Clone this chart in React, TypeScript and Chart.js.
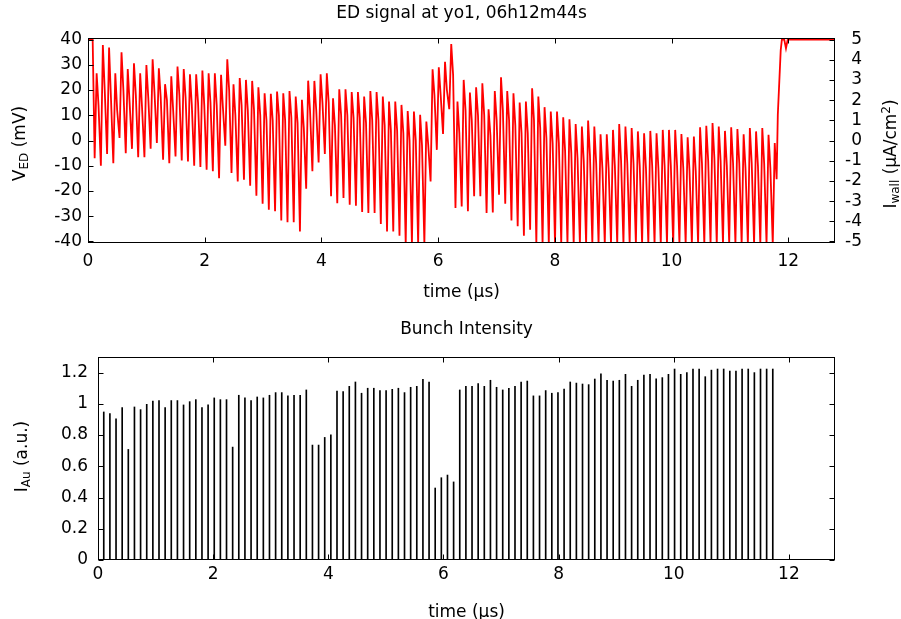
import React, { useEffect, useRef } from 'react';
import { Chart, registerables } from 'chart.js';

Chart.register(...registerables);

const FONT = "'DejaVu Sans', sans-serif";

// ---------- data ----------
const TIME_MIN = 0;
const TIME_MAX = 12.8;
const BUNCH_FIRST = 0.1; // µs
const BUNCH_SPACING = 0.1066; // µs (RF bucket spacing)

const bunchIntensity = [
  0.948, 0.938, 0.904, 0.976, 0.708, 0.98, 0.963, 0.997, 1.017, 1.021,
  0.976, 1.021, 1.021, 0.993, 1.014, 1.027, 0.976, 0.993, 1.038, 1.027,
  1.027, 0.723, 1.055, 1.038, 1.021, 1.044, 1.038, 1.055, 1.072, 1.072,
  1.051, 1.055, 1.055, 1.089, 0.736, 0.736, 0.785, 0.802, 1.082, 1.078,
  1.112, 1.14, 1.068, 1.1, 1.1, 1.085, 1.085, 1.093, 1.1, 1.072,
  1.106, 1.112, 1.157, 1.14, 0.461, 0.527, 0.544, 0.5, 1.089, 1.112,
  1.112, 1.129, 1.112, 1.151, 1.106, 1.089, 1.1, 1.112, 1.14, 1.146,
  1.051, 1.051, 1.085, 1.068, 1.072, 1.095, 1.14, 1.133, 1.127, 1.123,
  1.159, 1.193, 1.151, 1.146, 1.151, 1.189, 1.112, 1.151, 1.185, 1.189,
  1.161, 1.168, 1.189, 1.223, 1.189, 1.2, 1.223, 1.223, 1.174, 1.216,
  1.223, 1.223, 1.21, 1.21, 1.223, 1.223, 1.2, 1.223, 1.223, 1.223,
];

// ED signal (mV): per-bunch minimum, maximum and trailing shoulder
const edTrough = [
  -7.0, -10.0, -5.3, -9.0, 1.0, -5.0, -3.3, -6.6, -6.6, -3.3,
  -1.0, -7.6, -9.0, -6.3, -7.9, -8.3, -10.0, -10.5, -11.6, -12.2,
  -14.9, -2.1, -12.9, -16.2, -15.5, -17.9, -21.9, -25.0, -27.4, -28.0,
  -31.7, -32.4, -32.4, -36.0, -19.1, -12.2, -8.7, -5.3, -22.1, -24.8,
  -22.8, -25.4, -25.8, -28.3, -28.7, -28.7, -33.1, -36.0, -36.0, -37.7,
  -41, -41, -41, -41, -16.2, -3.7, 2.6, 12.4, -26.7, -26.1,
  -28.0, -22.1, -22.1, -28.7, -28.5, -21.5, -25.0, -31.7, -34.0, -37.7,
  -35.3, -41, -41, -41, -41, -41, -41, -41, -41, -41,
  -41, -41, -41, -41, -41, -41, -41, -41, -41, -41,
  -41, -41, -41, -41, -41, -41, -41, -41, -41, -41,
  -41, -41, -41, -41, -41, -41, -41, -41, -41, -41,
];
const edPeak = [
  26.6, 37.8, 36.8, 26.6, 34.9, 28.3, 30.6, 26.6, 29.9, 32.2,
  28.6, 22.3, 25.4, 29.3, 28.3, 26.2, 26.2, 27.7, 26.6, 26.6,
  26.0, 32.2, 22.3, 24.7, 24.0, 23.6, 21.1, 18.7, 18.5, 19.4,
  18.7, 19.6, 17.4, 16.1, 23.7, 23.6, 26.2, 26.6, 16.7, 20.3,
  20.3, 19.2, 19.2, 17.4, 19.6, 19.2, 17.4, 15.4, 15.4, 14.1,
  11.7, 11.5, 10.2, 7.5, 28.2, 29.0, 31.2, 38.2, 15.4, 24.0,
  19.0, 21.1, 22.7, 12.4, 19.6, 25.0, 19.6, 18.7, 15.0, 15.4,
  20.7, 17.4, 13.2, 11.5, 11.5, 9.2, 8.4, 6.5, 5.5, 7.9,
  5.5, 2.5, 2.5, 4.2, 6.5, 5.5, 4.9, 3.6, 2.9, 3.8,
  2.9, 4.2, 4.2, 4.2, 2.6, 1.3, 1.6, 5.2, 5.8, 6.9,
  5.5, 3.8, 5.2, 4.5, 2.5, 4.9, 3.6, 4.9, 2.3, -1.0,
];
const edShoulder = [
  14, 20, 17, 12, 20, 15, 18, 13, 17, 19,
  17, 16, 12, 18, 17, 14, 15, 14, 15, 14,
  13, 20, 10, 14, 12, 12, 10, 8, 8, 10,
  8, 9, 7, 5, 12, 12, 15, 15, 6, 10,
  10, 9, 9, 7, 8, 8, 6, 4, 4, 3,
  0, 0, -2, -1.7, 18, 18, 20, 26, 3, 12,
  8, 10, 10, 2, 8, 12, 8, 6, 3, 3,
  8, 5, 1, -1, -1, -4, -5, -7, -8, -6,
  -9, -11, -11, -10, -8, -9, -9, -10, -11, -10,
  -11, -10, -10, -10, -11, -12, -12, -9, -8, -7,
  -8, -10, -9, -9, -11, -9, -10, -9, -11, -15.3,
];
const edHeadTime = [0, 0.08];
const edHeadValue = [40, 40];
const edTailTime = [11.82, 11.87, 11.89, 11.93, 11.96, 11.99, 12.8];
const edTailValue = [10.2, 35.8, 40, 40, 36.5, 40, 40];

const bunchTime = bunchIntensity.map((_, k) => BUNCH_FIRST + BUNCH_SPACING * k);

// ---------- helpers ----------
type Part = { t: string; k?: 'sub' | 'sup' };

function drawRich(
  ctx: CanvasRenderingContext2D,
  parts: Part[],
  cx: number,
  cy: number,
  rotate: boolean,
) {
  const main = `17px ${FONT}`;
  const small = `12px ${FONT}`;
  ctx.save();
  ctx.translate(cx, cy);
  if (rotate) ctx.rotate(-Math.PI / 2);
  let total = 0;
  const widths = parts.map((p) => {
    ctx.font = p.k ? small : main;
    const w = ctx.measureText(p.t).width;
    total += w;
    return w;
  });
  let x = -total / 2;
  ctx.textAlign = 'left';
  ctx.textBaseline = 'alphabetic';
  ctx.fillStyle = '#000';
  parts.forEach((p, i) => {
    ctx.font = p.k ? small : main;
    const dy = p.k === 'sub' ? 3 : p.k === 'sup' ? -6 : 0;
    ctx.fillText(p.t, x, dy);
    x += widths[i];
  });
  ctx.restore();
}

type DecorCfg = {
  title: Part[];
  titleY: number;
  xLabel: Part[];
  xLabelY: number;
  yLabel: Part[];
  yLabelX: number;
  yLabelY: number;
  y2Label?: Part[];
  y2LabelX?: number;
  y2LabelY?: number;
  rightScale: string; // scale whose ticks are marked on the right edge
};

function makeDecor(cfg: DecorCfg) {
  return {
    id: 'decor',
    afterDraw(chart: any) {
      const ctx: CanvasRenderingContext2D = chart.ctx;
      const { left, right, top, bottom } = chart.chartArea;
      const L = Math.round(left) + 0.5;
      const R = Math.round(right) - 0.5;
      const T = Math.round(top) + 0.5;
      const B = Math.round(bottom) - 0.5;
      const tl = 5;
      ctx.save();
      ctx.strokeStyle = '#000';
      ctx.lineWidth = 1;
      ctx.beginPath();
      const xs = chart.scales.x;
      xs.ticks.forEach((t: any) => {
        const px = Math.round(xs.getPixelForValue(t.value)) + 0.5;
        ctx.moveTo(px, B);
        ctx.lineTo(px, B - tl);
        ctx.moveTo(px, T);
        ctx.lineTo(px, T + tl);
      });
      const ys = chart.scales.y;
      ys.ticks.forEach((t: any) => {
        const py = Math.round(ys.getPixelForValue(t.value)) + 0.5;
        ctx.moveTo(L, py);
        ctx.lineTo(L + tl, py);
      });
      const rs = chart.scales[cfg.rightScale];
      rs.ticks.forEach((t: any) => {
        const py = Math.round(rs.getPixelForValue(t.value)) + 0.5;
        ctx.moveTo(R, py);
        ctx.lineTo(R - tl, py);
      });
      ctx.stroke();
      ctx.strokeRect(L, T, R - L, B - T);
      ctx.restore();

      const cx = (left + right) / 2;
      drawRich(ctx, cfg.title, cx, cfg.titleY, false);
      drawRich(ctx, cfg.xLabel, cx, cfg.xLabelY, false);
      drawRich(ctx, cfg.yLabel, cfg.yLabelX, cfg.yLabelY, true);
      if (cfg.y2Label) drawRich(ctx, cfg.y2Label, cfg.y2LabelX!, cfg.y2LabelY!, true);
    },
  };
}

const tickFont = { family: FONT, size: 17 };
const fmt = (v: any) => String(Math.round(Number(v) * 10) / 10);

export default function App() {
  const topRef = useRef<HTMLCanvasElement>(null);
  const botRef = useRef<HTMLCanvasElement>(null);

  useEffect(() => {
    const signal: { x: number; y: number }[] = [];
    edHeadTime.forEach((t, i) => signal.push({ x: t, y: edHeadValue[i] }));
    bunchTime.forEach((t, k) => {
      signal.push({ x: t + 0.014, y: edTrough[k] });
      signal.push({ x: t + 0.048, y: edPeak[k] });
      signal.push({ x: t + 0.08, y: edShoulder[k] });
    });
    edTailTime.forEach((t, i) => signal.push({ x: t, y: edTailValue[i] }));

    const top = new Chart(topRef.current!, {
      type: 'line',
      data: {
        datasets: [
          {
            data: signal,
            borderColor: '#ff0000',
            borderWidth: 1.8,
            pointRadius: 0,
            tension: 0,
            yAxisID: 'y',
          },
        ],
      },
      options: {
        responsive: false,
        animation: false,
        devicePixelRatio: 1,
        parsing: false,
        events: [],
        layout: { padding: { top: 38, left: 0, right: 39, bottom: 0 } },
        plugins: { legend: { display: false }, tooltip: { enabled: false }, title: { display: false } },
        scales: {
          x: {
            type: 'linear',
            min: TIME_MIN,
            max: TIME_MAX,
            grid: { display: false, drawTicks: false },
            border: { display: false },
            ticks: { stepSize: 2, includeBounds: false, padding: 8, font: tickFont, color: '#000', maxRotation: 0, autoSkip: false, callback: fmt },
            afterFit: (s: any) => { s.height = 67; },
          },
          y: {
            type: 'linear',
            position: 'left',
            min: -40.6,
            max: 40.6,
            grid: { display: false, drawTicks: false },
            border: { display: false },
            ticks: { stepSize: 10, includeBounds: false, padding: 6, autoSkip: false, font: tickFont, color: '#000', callback: fmt },
            afterFit: (s: any) => { s.width = 88; },
          },
          y2: {
            type: 'linear',
            position: 'right',
            min: -5.075,
            max: 5.075,
            grid: { display: false, drawTicks: false },
            border: { display: false },
            ticks: { stepSize: 1, includeBounds: false, padding: 6, autoSkip: false, crossAlign: 'far', font: tickFont, color: '#000', callback: fmt },
            afterFit: (s: any) => { s.width = 27; },
          },
        },
      } as any,
      plugins: [
        makeDecor({
          title: [{ t: 'ED signal at yo1, 06h12m44s' }],
          titleY: 18,
          xLabel: [{ t: 'time (µs)' }],
          xLabelY: 297,
          yLabel: [{ t: 'V' }, { t: 'ED', k: 'sub' }, { t: ' (mV)' }],
          yLabelX: 25,
          yLabelY: 143.5,
          y2Label: [{ t: 'I' }, { t: 'wall', k: 'sub' }, { t: ' (µA/cm' }, { t: '2', k: 'sup' }, { t: ')' }],
          y2LabelX: 896,
          y2LabelY: 154,
          rightScale: 'y2',
        }) as any,
      ],
    });

    const bottom = new Chart(botRef.current!, {
      type: 'bar',
      data: {
        datasets: [
          {
            data: bunchTime.map((t, k) => ({ x: t, y: bunchIntensity[k] })),
            backgroundColor: '#000',
            borderWidth: 0,
            barThickness: 1,
          },
        ],
      },
      options: {
        responsive: false,
        animation: false,
        devicePixelRatio: 1,
        parsing: false,
        events: [],
        layout: { padding: { top: 47, left: 0, right: 66, bottom: 0 } },
        plugins: { legend: { display: false }, tooltip: { enabled: false }, title: { display: false } },
        scales: {
          x: {
            type: 'linear',
            offset: false,
            min: TIME_MIN,
            max: TIME_MAX,
            grid: { display: false, drawTicks: false },
            border: { display: false },
            ticks: { stepSize: 2, includeBounds: false, padding: 4, font: tickFont, color: '#000', maxRotation: 0, autoSkip: false, callback: fmt },
            afterFit: (s: any) => { s.height = 59; },
          },
          y: {
            type: 'linear',
            position: 'left',
            min: 0,
            max: 1.3,
            grid: { display: false, drawTicks: false },
            border: { display: false },
            ticks: { stepSize: 0.2, includeBounds: false, padding: 10, autoSkip: false, font: tickFont, color: '#000', callback: fmt },
            afterFit: (s: any) => { s.width = 98; },
          },
        },
      } as any,
      plugins: [
        makeDecor({
          title: [{ t: 'Bunch Intensity' }],
          titleY: 24,
          xLabel: [{ t: 'time (µs)' }],
          xLabelY: 307,
          yLabel: [{ t: 'I' }, { t: 'Au', k: 'sub' }, { t: ' (a.u.)' }],
          yLabelX: 27,
          yLabelY: 146.5,
          rightScale: 'y',
        }) as any,
      ],
    });

    return () => {
      top.destroy();
      bottom.destroy();
    };
  }, []);

  return (
    <div style={{ position: 'absolute', left: 0, top: 0, width: 901, height: 619, background: '#fff' }}>
      <canvas ref={topRef} width={901} height={310} style={{ display: 'block', width: 901, height: 310 }} />
      <canvas ref={botRef} width={901} height={309} style={{ display: 'block', width: 901, height: 309 }} />
    </div>
  );
}
